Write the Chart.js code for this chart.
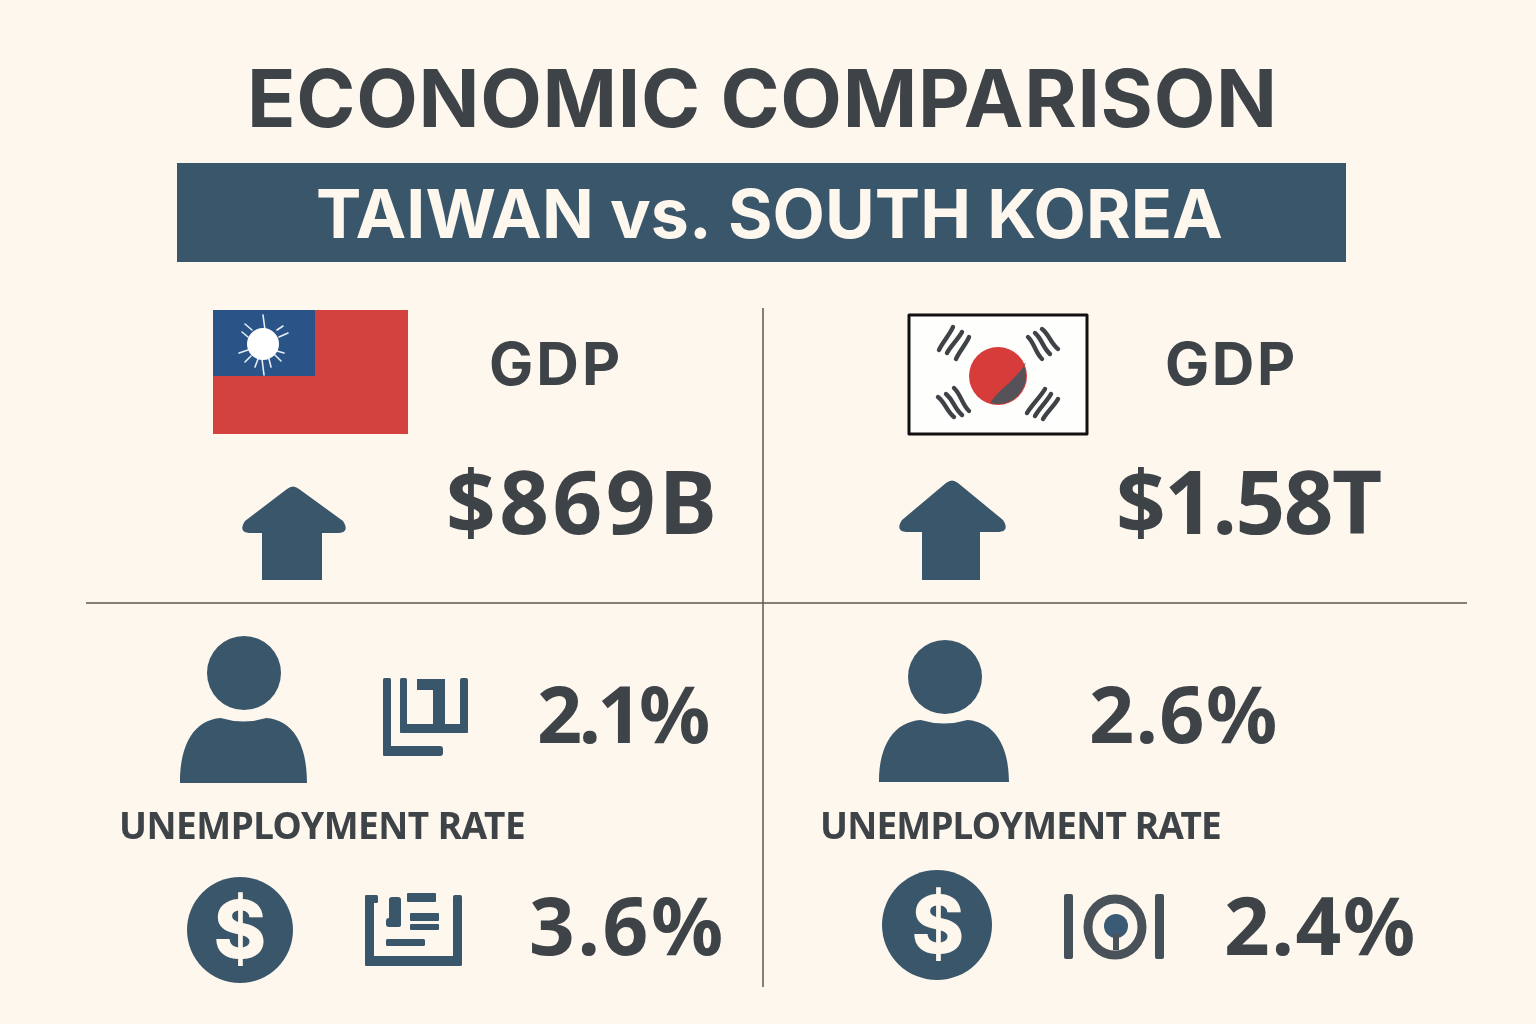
<!DOCTYPE html>
<html><head><meta charset="utf-8"><title>Economic Comparison</title>
<script src="https://cdn.jsdelivr.net/npm/chart.js@4"></script>
<style>html,body{margin:0;padding:0;background:#fdf7ee;overflow:hidden}canvas{display:block}</style>
</head><body><canvas id="c" width="1536" height="1024"></canvas>
<script>
const chartTitle = 'ECONOMIC COMPARISON';
const chartSubtitle = 'TAIWAN vs. SOUTH KOREA';
const countries = ['Taiwan', 'South Korea'];
const gdpHeading = 'GDP';
const gdpValues = ['$869B', '$1.58T'];
const unemploymentHeading = 'UNEMPLOYMENT RATE';
const unemploymentRates = [2.1, 2.6];
const lowerRates = [3.6, 2.4];

const INK = '#3e4348', NAVY = '#3a566a', CREAM = '#fdf7ee', RULE = '#5c5a52';
const INTER = 'Inter', NOTO = '"Noto Sans"';

// layout: [left, right, baseline, weight, size, family]
const textLayout = {
  title: [252, 1272, 127, 700, 80, INTER],
  subtitle: [318, 1222, 238, 700, 68, INTER],
  gdpHead: [[491, 618], [1167, 1293], 385, 700, 59, INTER],
  gdpVal: [[449, 713], [1119, 1381], 534, 700, 87, NOTO],
  unemp: [[540, 708], [1092, 1275], 743, 700, 79, NOTO],
  unempHead: [[122, 524], [823, 1220], 839, 700, 37, NOTO],
  lower: [[532, 721], [1227, 1413], 955, 700, 80, NOTO]
};

const layer = {
  id: 'infographic',
  beforeDraw(chart) {
    const ctx = chart.ctx, xs = chart.scales.x, ys = chart.scales.y;
    const X = v => xs.getPixelForValue(v), Y = v => ys.getPixelForValue(v);
    const text = (s, l, r, base, weight, size, family, color) => {
      ctx.save();
      ctx.font = `${weight} ${size}px ${family}`;
      ctx.fillStyle = color; ctx.textAlign = 'left'; ctx.textBaseline = 'alphabetic';
      ctx.letterSpacing = '0px';
      const m = ctx.measureText(s);
      const inkW = m.actualBoundingBoxRight + m.actualBoundingBoxLeft;
      const sp = ((r - l) - inkW) / Math.max(1, s.length - 1);
      ctx.letterSpacing = sp.toFixed(2) + 'px';
      ctx.fillText(s, X(l) + m.actualBoundingBoxLeft, Y(base));
      ctx.restore();
    };
    const rect = (x0, y0, x1, y1, c, rad = 0) => { ctx.fillStyle = c; ctx.beginPath(); ctx.roundRect(X(x0), Y(y0), X(x1) - X(x0), Y(y1) - Y(y0), rad); ctx.fill(); };
    const disc = (x, y, r, c) => { ctx.fillStyle = c; ctx.beginPath(); ctx.arc(X(x), Y(y), r, 0, Math.PI * 2); ctx.fill(); };
    const seg = (a, b, c, d, col, w) => { ctx.strokeStyle = col; ctx.lineWidth = w; ctx.lineCap = 'round'; ctx.beginPath(); ctx.moveTo(X(a), Y(b)); ctx.lineTo(X(c), Y(d)); ctx.stroke(); };

    rect(0, 0, 1536, 1024, CREAM);

    // title and banner
    const tl = textLayout;
    text(chartTitle, tl.title[0], tl.title[1], tl.title[2], tl.title[3], tl.title[4], tl.title[5], INK);
    rect(177, 163, 1346, 262, NAVY);
    text(chartSubtitle, tl.subtitle[0], tl.subtitle[1], tl.subtitle[2], tl.subtitle[3], tl.subtitle[4], tl.subtitle[5], CREAM);

    // dividers
    ctx.lineCap = 'butt';
    ctx.strokeStyle = RULE; ctx.lineWidth = 1.5;
    ctx.beginPath(); ctx.moveTo(X(763), Y(308)); ctx.lineTo(X(763), Y(987)); ctx.moveTo(X(86), Y(603)); ctx.lineTo(X(1467), Y(603)); ctx.stroke();

    // Taiwan flag
    rect(213, 310, 408, 434, '#d3423f');
    rect(213, 310, 315, 376, '#2a5488');
    for (const [a, b, c, d] of [[263, 315, 265, 330], [262, 359, 264, 375], [245, 324, 252, 330], [277, 330, 283, 326], [279, 337, 288, 333], [242, 332, 248, 337], [239, 353, 248, 350], [245, 362, 251, 356], [255, 367, 258, 359], [271, 367, 269, 359], [281, 361, 275, 355], [284, 353, 277, 351]]) seg(a, b, c, d, '#e6eef5', 1.6);
    disc(263, 344, 16, '#ffffff');

    // arrows
    const arrow = (tip, top, l, r, sl, sr, sh, base) => {
      ctx.fillStyle = NAVY; ctx.beginPath();
      ctx.moveTo(X(tip - 6), Y(top + 3)); ctx.quadraticCurveTo(X(tip), Y(top - 2), X(tip + 6), Y(top + 3));
      ctx.lineTo(X(r - 3), Y(sh - 12)); ctx.quadraticCurveTo(X(r + 4), Y(sh - 1), X(r - 7), Y(sh));
      ctx.lineTo(X(sr), Y(sh)); ctx.lineTo(X(sr), Y(base)); ctx.lineTo(X(sl), Y(base)); ctx.lineTo(X(sl), Y(sh));
      ctx.lineTo(X(l + 7), Y(sh)); ctx.quadraticCurveTo(X(l - 4), Y(sh - 1), X(l + 3), Y(sh - 12));
      ctx.closePath(); ctx.fill();
    };
    arrow(293, 486, 242, 346, 262, 322, 533, 580);
    arrow(952, 480, 899, 1006, 922, 980, 532, 580);

    // Korea flag
    ctx.fillStyle = '#fefefc'; ctx.fillRect(X(909), Y(315), 178, 119);
    ctx.strokeStyle = '#111'; ctx.lineWidth = 3; ctx.lineJoin = 'round'; ctx.strokeRect(X(909), Y(315), 178, 119);
    const cx = 998, cy = 376, cr = 29;
    ctx.fillStyle = '#d63c3a'; ctx.beginPath(); ctx.arc(X(cx), Y(cy), cr, 0, Math.PI * 2); ctx.fill();
    const a0 = Math.atan2(363 - cy, 1026 - cx), a1 = Math.atan2(404 - cy, 990 - cx);
    ctx.fillStyle = '#55525a'; ctx.beginPath(); ctx.arc(X(cx), Y(cy), cr - 1, a0, a1);
    ctx.bezierCurveTo(X(1000), Y(388), X(1012), Y(384), X(1026), Y(363)); ctx.closePath(); ctx.fill();
    for (const [a, b, c, d] of [[953, 327, 939, 350], [962, 332, 947, 353], [969, 337, 956, 359], [1042, 329, 1058, 349], [1035, 333, 1050, 354], [1028, 337, 1042, 359], [938, 397, 954, 417], [946, 394, 962, 415], [954, 388, 969, 411], [1045, 389, 1027, 413], [1051, 394, 1035, 416], [1058, 399, 1043, 419]]) {
      ctx.strokeStyle = '#3f4347'; ctx.lineWidth = 4.4; ctx.lineCap = 'round';
      const dx = c - a, dy = d - b;
      ctx.beginPath(); ctx.moveTo(X(a), Y(b));
      ctx.bezierCurveTo(X(a + dx * .33 + 2), Y(b + dy * .33 - 1), X(a + dx * .66 - 2), Y(b + dy * .66 + 1), X(c), Y(d));
      ctx.stroke();
    }

    // people
    const person = (hx, hy, hr, l, r, top, bot) => {
      disc(hx, hy, hr, NAVY);
      const m = (l + r) / 2, w = r - l;
      ctx.fillStyle = NAVY; ctx.beginPath();
      ctx.moveTo(X(l), Y(bot));
      ctx.bezierCurveTo(X(l), Y(top + 24), X(l + w * .12), Y(top + 2), X(l + w * .32), Y(top));
      ctx.quadraticCurveTo(X(m), Y(top + 7), X(r - w * .32), Y(top));
      ctx.bezierCurveTo(X(r - w * .12), Y(top + 2), X(r), Y(top + 24), X(r), Y(bot));
      ctx.closePath(); ctx.fill();
    };
    person(244, 673, 37, 180, 307, 718, 783);
    person(945, 677, 37, 879, 1009, 720, 782);

    // ledger icon (Taiwan, top)
    rect(383, 678, 391, 756, NAVY, 1.5); rect(383, 746, 443, 756, NAVY, 3);
    rect(400, 678, 407, 733, NAVY, 1.5); rect(400, 724, 468, 733, NAVY, 1.5); rect(460, 678, 468, 733, NAVY, 2);
    rect(417, 679, 445, 690, NAVY); rect(433, 679, 445, 724, NAVY);

    // document icon (Taiwan, bottom)
    rect(365, 895, 374, 966, NAVY, 1.5); rect(365, 956, 462, 966, NAVY, 2); rect(453, 895, 462, 966, NAVY, 2); rect(365, 895, 378, 903, NAVY, 1.5);
    rect(407, 893, 436, 902, NAVY, 1); rect(410, 913, 439, 921, NAVY, 1); rect(410, 924, 439, 930, NAVY, 1); rect(386, 939, 425, 946, NAVY, 1.5);
    rect(389, 897, 401, 927, NAVY, 3); rect(386, 918, 401, 927, NAVY, 3);

    // dollar coins
    disc(240, 930, 53, NAVY); disc(937, 925, 55, NAVY);
    ctx.save(); ctx.textAlign = 'center'; ctx.fillStyle = CREAM; ctx.font = `800 80px ${INTER}`;
    ctx.fillText('$', X(240), Y(958)); ctx.fillText('$', X(938), Y(953)); ctx.restore();

    // ring icon (Korea, bottom)
    rect(1064, 894, 1073, 959, '#44505a', 2); rect(1155, 894, 1164, 959, '#44505a', 2);
    ctx.strokeStyle = '#4a5259'; ctx.lineWidth = 9; ctx.beginPath(); ctx.ellipse(X(1115), Y(927), 27, 28, 0, 0, Math.PI * 2); ctx.stroke();
    disc(1116, 926, 12, '#3a5a75'); rect(1113, 934, 1119, 950, '#4a5259');

    // headings and values
    countries.forEach((name, i) => {
      const t = textLayout;
      const put = (s, row) => text(s, row[i][0], row[i][1], row[2], row[3], row[4], row[5], INK);
      put(gdpHeading, t.gdpHead);
      put(gdpValues[i], t.gdpVal);
      put(unemploymentRates[i].toFixed(1) + '%', t.unemp);
      put(unemploymentHeading, t.unempHead);
      put(lowerRates[i].toFixed(1) + '%', t.lower);
    });
  }
};

new Chart(document.getElementById('c'), {
  type: 'scatter',
  data: { labels: countries, datasets: [] },
  options: {
    responsive: false, animation: false, devicePixelRatio: 1,
    layout: { padding: 0 },
    plugins: { legend: { display: false }, tooltip: { enabled: false }, title: { display: false } },
    scales: {
      x: { type: 'linear', display: false, min: 0, max: 1536 },
      y: { type: 'linear', display: false, min: 0, max: 1024, reverse: true }
    }
  },
  plugins: [layer]
});
</script></body></html>
